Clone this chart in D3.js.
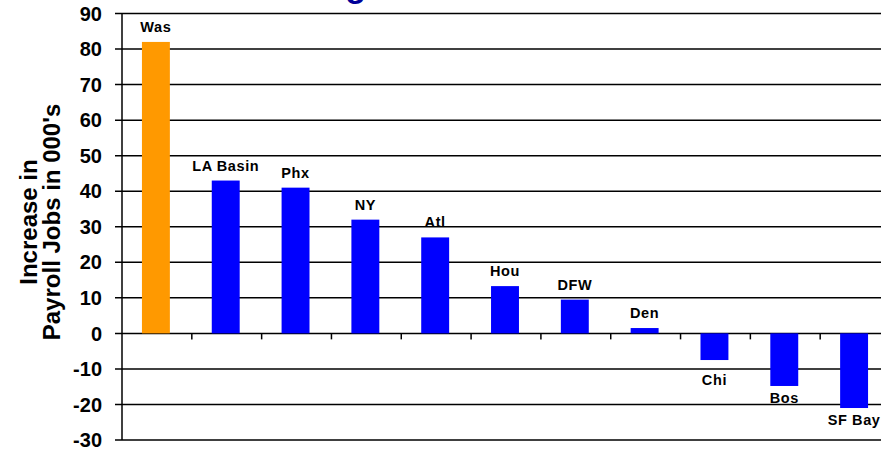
<!DOCTYPE html>
<html><head><meta charset="utf-8">
<script src="https://cdn.jsdelivr.net/npm/d3@7"></script>
<style>body{margin:0;background:#fff;}svg{display:block;font-family:Arial,"Liberation Sans",sans-serif;}</style>
</head><body>
<svg id="c" width="881" height="454"></svg>
<script>
const categories = ["Was","LA Basin","Phx","NY","Atl","Hou","DFW","Den","Chi","Bos","SF Bay"];
const values = [82, 43, 41, 32, 27, 13.3, 9.5, 1.5, -7.5, -14.8, -21];
const highlight = ["Was"];
const yTicks = [-30,-20,-10,0,10,20,30,40,50,60,70,80,90];
const titleText = "Metro Area Ranking";
const yTitleLines = ["Increase in","Payroll Jobs in 000's"];

const svg = d3.select("#c");
const L = 122, R = 890, T = 13.5, B = 440;
const x = d3.scaleBand().domain(categories).range([L, R]).padding(0);
const y = d3.scaleLinear().domain([-30, 90]).range([B, T]);
const labelNudge = {"Chi": 8};

// title (mostly above the visible area)
svg.append("text").attr("x", 366).attr("y", -3).attr("text-anchor","end")
  .attr("font-size", 34).attr("font-weight","bold").attr("fill","#000099").text(titleText);

// gridlines
svg.append("g").selectAll("line").data(yTicks).join("line")
  .attr("x1", L - 7).attr("x2", R).attr("y1", d => y(d)).attr("y2", d => y(d))
  .attr("stroke", "#000").attr("stroke-width", 1.5);

// bars
const bw = x.bandwidth() * 0.4;
svg.append("g").selectAll("rect").data(categories).join("rect")
  .attr("x", (d) => x(d) + x.bandwidth()/2 - bw/2 - 1)
  .attr("width", bw)
  .attr("y", (d,i) => y(Math.max(0, values[i])))
  .attr("height", (d,i) => Math.abs(y(values[i]) - y(0)))
  .attr("fill", d => highlight.includes(d) ? "#FF9900" : "#0000FF");

// y axis line
svg.append("line").attr("x1", L).attr("x2", L).attr("y1", T).attr("y2", B)
  .attr("stroke","#000").attr("stroke-width",1.5);

// x ticks at band boundaries
svg.append("g").selectAll("line").data(categories.slice(1)).join("line")
  .attr("x1", d => x(d)).attr("x2", d => x(d)).attr("y1", y(0)).attr("y2", y(0) + 6)
  .attr("stroke","#000").attr("stroke-width",1.5);

// y tick labels
svg.append("g").selectAll("text").data(yTicks).join("text")
  .attr("x", 102).attr("y", d => y(d)).attr("dy", "0.36em").attr("text-anchor","end")
  .attr("font-size", 20).attr("font-weight","bold").attr("fill","#000").text(d => d);

// bar labels
svg.append("g").selectAll("text").data(categories).join("text")
  .attr("x", d => x(d) + x.bandwidth()/2 - 1)
  .attr("y", (d,i) => values[i] >= 0 ? y(values[i]) - 10 : y(values[i]) + 17 + (labelNudge[d] || 0))
  .attr("text-anchor","middle").attr("font-size", 14.5).attr("letter-spacing", 0.6)
  .attr("font-weight","bold").attr("fill","#000")
  .text(d => d);

// y title
const yt = svg.append("text").attr("transform", "translate(37,222) rotate(-90)")
  .attr("text-anchor","middle").attr("font-size", 24).attr("font-weight","bold").attr("fill","#000");
yt.selectAll("tspan").data(yTitleLines).join("tspan")
  .attr("x", 0).attr("dy", (d,i) => i === 0 ? 0 : 23).text(d => d);
</script>
</body></html>
